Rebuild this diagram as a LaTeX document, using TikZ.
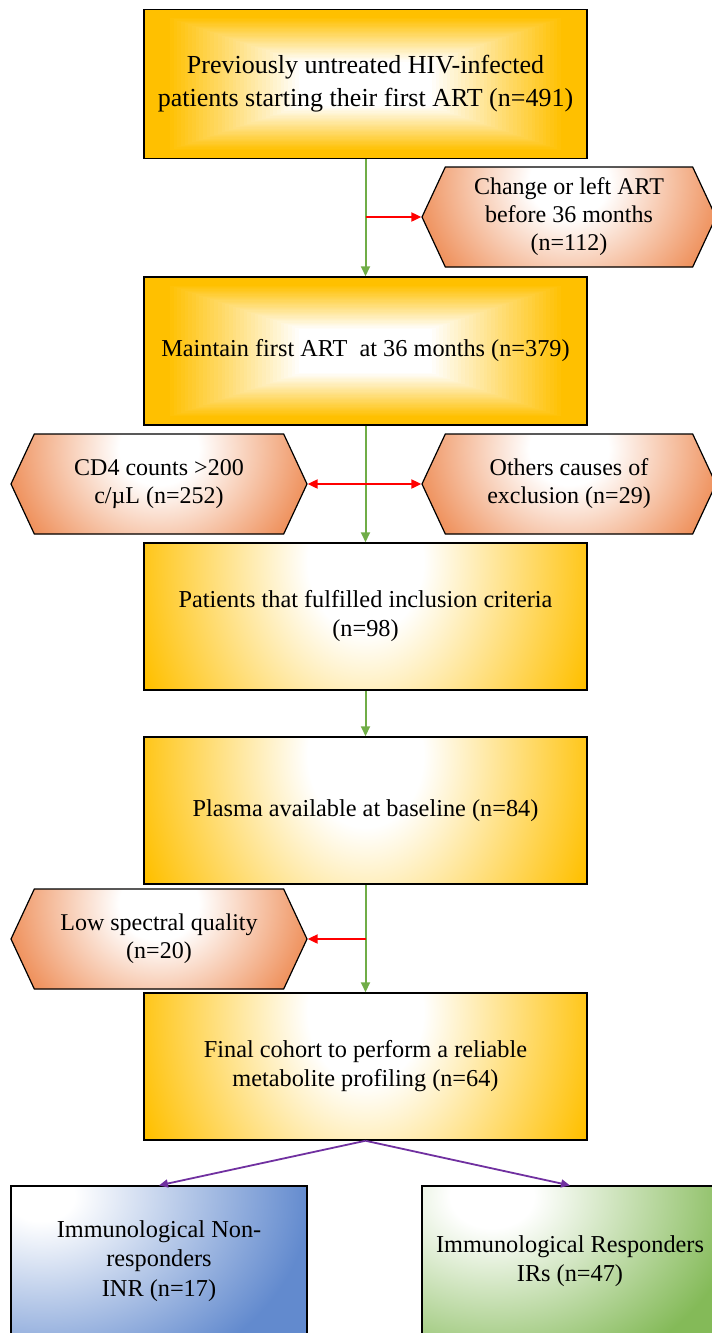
\documentclass[tikz,border=0pt]{standalone}
\usepackage{fontspec}
\setmainfont{Liberation Serif}
\usetikzlibrary{shapes.symbols,arrows.meta,calc}
\definecolor{boxgold}{RGB}{255,192,0}
\definecolor{hexorange}{RGB}{238,140,85}
\definecolor{inrblue}{RGB}{98,138,206}
\definecolor{irgreen}{RGB}{132,186,88}
\definecolor{flowgreen}{RGB}{112,173,71}
\definecolor{splitpurple}{RGB}{112,48,160}
\pgfdeclareradialshading{goldglow}{\pgfpointorigin}{color(0bp)=(white); color(6bp)=(white); color(25bp)=(boxgold); color(50bp)=(boxgold)}
\pgfdeclareradialshading{hexglow}{\pgfpointorigin}{color(0bp)=(white); color(6bp)=(white); color(24bp)=(hexorange); color(50bp)=(hexorange)}
\pgfdeclareradialshading{blueglow}{\pgfpointorigin}{color(0bp)=(white); color(3bp)=(white); color(24bp)=(inrblue); color(50bp)=(inrblue)}
\pgfdeclareradialshading{greenglow}{\pgfpointorigin}{color(0bp)=(white); color(4bp)=(white); color(24bp)=(irgreen); color(50bp)=(irgreen)}
\begin{document}
\begin{tikzpicture}[x=1pt,y=-1pt,
  glow/.style n args={5}{path picture={\shade[shading=#1] ($(path picture bounding box.#2)+(#3)$) ++(-#4,-#5) rectangle ++(2*#4,2*#5);}},
  centerglow/.style={path picture={
    \foreach \k in {0,...,60}{
      \pgfmathsetmacro\sz{1-\k/60}
      \pgfmathsetmacro\mix{max(0,min(100,(\sz-0.3)/0.6*100))}
      \fill[boxgold!\mix!white] ($(path picture bounding box.center)!\sz!(path picture bounding box.north west)$) rectangle ($(path picture bounding box.center)!\sz!(path picture bounding box.south east)$);
    }}},
  stepbox/.style={draw,line width=1.5pt,fill=boxgold,minimum width=443pt,minimum height=147pt,inner sep=0pt,align=center,font=\fontsize{24.3}{29}\selectfont},
  exitbox/.style={shape=signal,signal to=west and east,signal pointer angle=130,draw,line width=1.2pt,fill=hexorange,minimum width=294pt,minimum height=100pt,inner sep=0pt,align=center,font=\fontsize{24}{28}\selectfont,glow={hexglow}{north}{0,15}{165}{150}},
  groupbox/.style={draw,line width=1.2pt,minimum width=296pt,minimum height=150pt,inner sep=0pt,align=center,font=\fontsize{24.3}{29.5}\selectfont},
  flow/.style={draw=flowgreen,line width=2pt,-{Triangle[length=10pt,width=9pt]}},
  drop/.style={draw=red,line width=2pt,-{Triangle[length=10pt,width=9pt]}},
  dropboth/.style={draw=red,line width=2pt,{Triangle[length=10pt,width=9pt]}-{Triangle[length=10pt,width=9pt]}},
  split/.style={draw=splitpurple,line width=1.8pt,-{Triangle[length=9pt,width=8pt]}}]
\useasboundingbox (0,0) rectangle (712,1333);
\node[stepbox,centerglow,minimum height=149pt,font=\fontsize{26}{33}\selectfont] (start) at (365.5,84) {Previously untreated HIV-infected\\patients starting their first ART (n=491)};
\node[stepbox,centerglow,minimum height=148pt] (maintain) at (365.5,351) {Maintain first ART~~at 36 months (n=379)};
\node[stepbox,glow={goldglow}{north}{0,18}{240}{300}] (eligible) at (365.5,616.5) {Patients that fulfilled inclusion criteria\\(n=98)};
\node[stepbox,glow={goldglow}{north}{0,18}{240}{300}] (plasma) at (365.5,810.5) {Plasma available at baseline (n=84)};
\node[stepbox,glow={goldglow}{north}{0,18}{240}{300}] (cohort) at (365.5,1066.5) {Final cohort to perform a reliable\\metabolite profiling (n=64)};
\node[exitbox] (changed) at (569,217) {Change or left ART\\before 36 months\\(n=112)};
\node[exitbox,minimum width=296pt] (highcd) at (159,484) {CD4 counts >200\\c/µL (n=252)};
\node[exitbox] (othercause) at (569,484) {Others causes of\\exclusion (n=29)};
\node[exitbox,minimum width=296pt] (lowquality) at (159,939) {Low spectral quality\\(n=20)};
\node[groupbox,fill=inrblue,glow={blueglow}{north west}{30,10}{280}{210}] (inr) at (159,1261) {Immunological Non-\\responders\\INR (n=17)};
\node[groupbox,fill=irgreen,glow={greenglow}{north west}{70,10}{260}{200}] (irs) at (570,1261) {Immunological Responders\\IRs (n=47)};
\coordinate (fork1) at (start.south |- changed.west);
\coordinate (fork2) at (plasma.south |- lowquality.east);
\draw[flow] (start.south) -- (maintain.north);
\draw[drop] (fork1) -- (changed.west);
\draw[flow] (maintain.south) -- (eligible.north);
\draw[dropboth] (highcd.east) -- (othercause.west);
\draw[flow] (eligible.south) -- (plasma.north);
\draw[flow] (plasma.south) -- (cohort.north);
\draw[drop] (fork2) -- (lowquality.east);
\draw[split] (cohort.south) -- (inr.north);
\draw[split] (cohort.south) -- (irs.north);
\end{tikzpicture}
\end{document}
